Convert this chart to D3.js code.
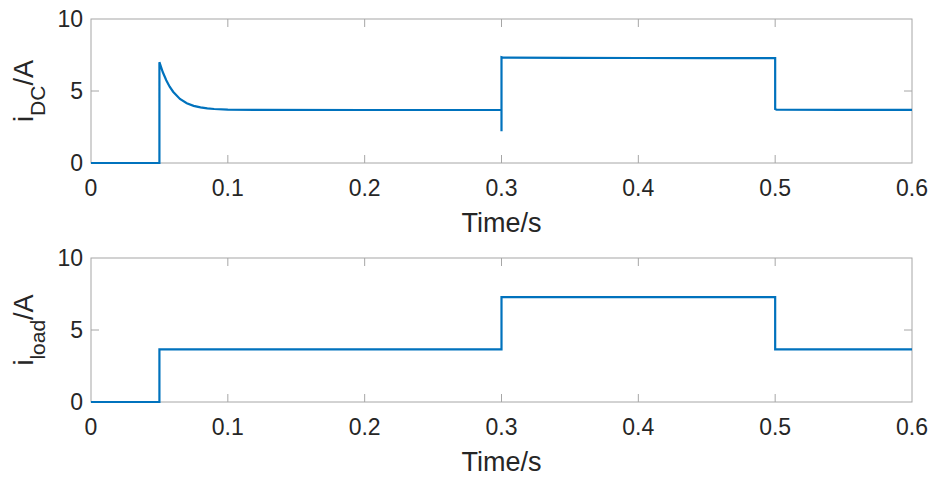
<!DOCTYPE html>
<html>
<head>
<meta charset="utf-8">
<script src="https://cdn.jsdelivr.net/npm/d3@7"></script>
<style>
  body { margin: 0; background: #fff; }
  text { font-family: "Liberation Sans", Arial, sans-serif; fill: #262626; }
</style>
</head>
<body>
<script>
// time points (s) and currents (A)
const dcTime = [0, 0.05, 0.05, 0.0525, 0.055, 0.0575, 0.06, 0.065, 0.07, 0.075, 0.08, 0.085, 0.09, 0.1, 0.12, 0.2, 0.3, 0.3, 0.3, 0.301, 0.35, 0.4, 0.45, 0.5, 0.5, 0.501, 0.55, 0.6];
const dcValue = [0, 0, 7.0, 6.3, 5.75, 5.3, 4.95, 4.45, 4.15, 3.97, 3.86, 3.79, 3.75, 3.71, 3.69, 3.68, 3.68, 2.2, 7.35, 7.32, 7.3, 7.29, 7.28, 7.28, 3.75, 3.7, 3.69, 3.69];
const loadTime = [0, 0.05, 0.05, 0.3, 0.3, 0.5, 0.5, 0.6];
const loadValue = [0, 0, 3.66, 3.66, 7.28, 7.28, 3.66, 3.66];
const xTicks = [0, 0.1, 0.2, 0.3, 0.4, 0.5, 0.6];
const yTicks = [0, 5, 10];

const W = 936, H = 477;
const svg = d3.select("body").append("svg")
    .attr("width", W)
    .attr("height", H);

const x = d3.scaleLinear().domain([0, 0.6]).range([91, 912]);

const panels = [
  {top: 19, bottom: 163, t: dcTime, v: dcValue, label: "i", sub: "DC"},
  {top: 258, bottom: 402, t: loadTime, v: loadValue, label: "i", sub: "load"}
];

panels.forEach(p => {
  const y = d3.scaleLinear().domain([0, 10]).range([p.bottom, p.top]);
  const g = svg.append("g");

  // box
  g.append("rect")
      .attr("x", x(0)).attr("y", y(10))
      .attr("width", x(0.6) - x(0)).attr("height", y(0) - y(10))
      .attr("fill", "none").attr("stroke", "#a6a6a6").attr("stroke-width", 1);

  // inward ticks on all four sides
  g.selectAll(".xt").data(xTicks.slice(1, -1)).enter().append("path")
      .attr("d", d => `M${x(d)},${y(0)}v-8M${x(d)},${y(10)}v8`)
      .attr("stroke", "#a6a6a6");
  g.selectAll(".yt").data(yTicks.slice(1, -1)).enter().append("path")
      .attr("d", d => `M${x(0)},${y(d)}h8M${x(0.6)},${y(d)}h-8`)
      .attr("stroke", "#a6a6a6");

  g.selectAll(".xl").data(xTicks).enter().append("text")
      .attr("x", d => x(d)).attr("y", y(0) + 33)
      .attr("text-anchor", "middle").attr("font-size", 23)
      .text(d => d3.format("")(d));
  g.selectAll(".yl").data(yTicks).enter().append("text")
      .attr("x", x(0) - 8).attr("y", d => y(d) + 8)
      .attr("text-anchor", "end").attr("font-size", 23)
      .text(d => d);

  g.append("text")
      .attr("x", (x(0) + x(0.6)) / 2).attr("y", y(0) + 69)
      .attr("text-anchor", "middle").attr("font-size", 27)
      .text("Time/s");

  const yl = g.append("text")
      .attr("transform", `translate(33,${(p.top + p.bottom) / 2}) rotate(-90)`)
      .attr("text-anchor", "middle").attr("font-size", 27);
  yl.append("tspan").text(p.label);
  yl.append("tspan").attr("dy", 12).attr("font-size", 21).text(p.sub);
  yl.append("tspan").attr("dy", -12).text("/A");

  const pts = p.t.map((t, i) => [t, p.v[i]]);
  g.append("path")
      .datum(pts)
      .attr("fill", "none")
      .attr("stroke", "#0072BD")
      .attr("stroke-width", 2.2)
      .attr("d", d3.line().x(d => x(d[0])).y(d => y(d[1])));
});
</script>
</body>
</html>
